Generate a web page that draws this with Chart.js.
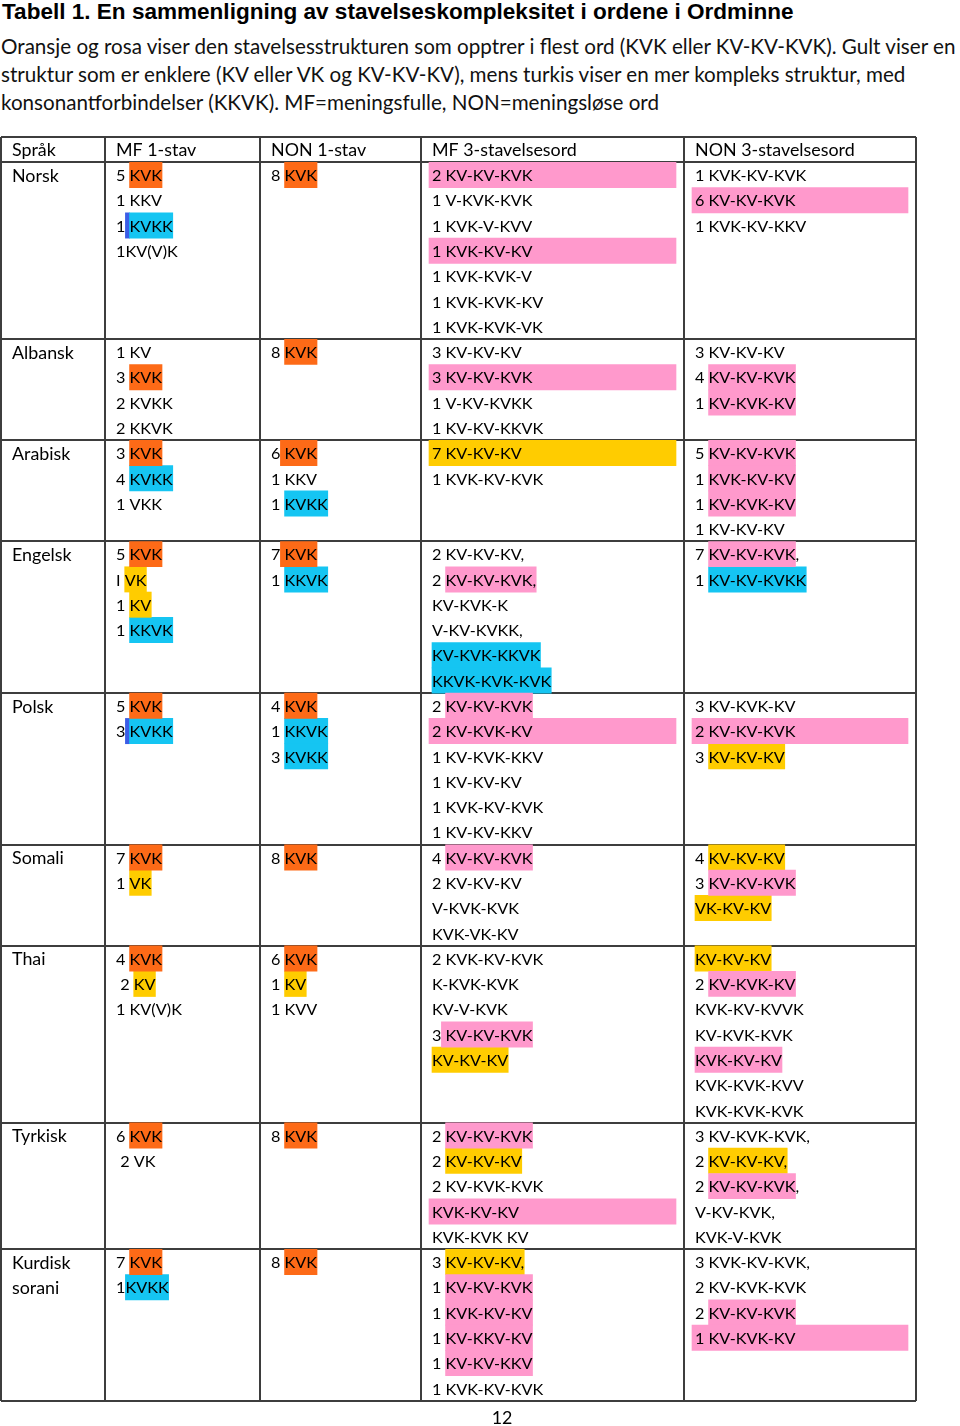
<!DOCTYPE html>
<html>
<head>
<meta charset="utf-8">
<script src="https://cdn.jsdelivr.net/npm/chart.js@4.4.1/dist/chart.umd.min.js"></script>
<style>
  body { margin: 0; width: 960px; height: 1426px; background: #fff; position: relative; overflow: hidden; color: #000; }
  #title { position: absolute; left: 2px; top: 0; line-height: 24px; font-family: "Liberation Sans", Arial, sans-serif; font-weight: bold; white-space: nowrap; }
  #intro { position: absolute; left: 1px; top: 32px; line-height: 28px; font-family: Lato, sans-serif; white-space: nowrap; color: #111; }
  #wrap { position: absolute; left: 0; top: 127px; width: 960px; height: 1284px; }
  #page { position: absolute; left: 472px; top: 1405px; width: 60px; line-height: 24px; text-align: center; font-family: Lato, sans-serif; }
</style>
</head>
<body>
<div id="title">Tabell 1. En sammenligning av stavelseskompleksitet i ordene i Ordminne</div>
<div id="intro"><span id="l1">Oransje og rosa viser den stavelsesstrukturen som opptrer i flest ord (KVK eller KV-KV-KVK). Gult viser en</span><br>struktur som er enklere (KV eller VK og KV-KV-KV), mens turkis viser en mer kompleks struktur, med<br>konsonantforbindelser (KKVK). MF=meningsfulle, NON=meningsløse ord</div>
<div id="wrap"><canvas id="table" width="960" height="1284"></canvas></div>
<div id="page">12</div>
<script>
// {x:...} = word highlight, "=x|" = highlight across the whole cell
// o orange, p pink, y yellow, c turquoise, b blue
const headers = ['Språk', 'MF 1-stav', 'NON 1-stav', 'MF 3-stavelsesord', 'NON 3-stavelsesord']

const languages = [['Norsk'], ['Albansk'], ['Arabisk'], ['Engelsk'], ['Polsk'], ['Somali'], ['Thai'], ['Tyrkisk'], ['Kurdisk', 'sorani']]

const mf1Stav = [
  ['5 {o:KVK}', '1 KKV', '1{b: }{c:KVKK}', '1KV(V)K'],
  ['1 KV', '3 {o:KVK}', '2 KVKK', '2 KKVK'],
  ['3 {o:KVK}', '4 {c:KVKK}', '1 VKK'],
  ['5 {o:KVK}', 'I {y:VK}', '1 {y:KV}', '1 {c:KKVK}'],
  ['5 {o:KVK}', '3{b: }{c:KVKK}'],
  ['7 {o:KVK}', '1 {y:VK}'],
  ['4 {o:KVK}', ' 2 {y:KV}', '1 KV(V)K'],
  ['6 {o:KVK}', ' 2 VK'],
  ['7 {o:KVK}', '1{c:KVKK}']
]

const non1Stav = [
  ['8 {o:KVK}'],
  ['8 {o:KVK}'],
  ['6{o: KVK}', '1 KKV', '1 {c:KVKK}'],
  ['7{o: KVK}', '1 {c:KKVK}'],
  ['4 {o:KVK}', '1 {c:KKVK}', '3 {c:KVKK}'],
  ['8 {o:KVK}'],
  ['6 {o:KVK}', '1 {y:KV}', '1 KVV'],
  ['8 {o:KVK}'],
  ['8 {o:KVK}']
]

const mf3Stav = [
  ['=p|2 KV-KV-KVK', '1 V-KVK-KVK', '1 KVK-V-KVV', '=p|1 KVK-KV-KV', '1 KVK-KVK-V', '1 KVK-KVK-KV', '1 KVK-KVK-VK'],
  ['3 KV-KV-KV', '=p|3 KV-KV-KVK', '1 V-KV-KVKK', '1 KV-KV-KKVK'],
  ['=y|7 KV-KV-KV', '1 KVK-KV-KVK'],
  ['2 KV-KV-KV,', '2 {p:KV-KV-KVK,}', 'KV-KVK-K', 'V-KV-KVKK,', '{c:KV-KVK-KKVK}', '{c:KKVK-KVK-KVK}'],
  ['2 {p:KV-KV-KVK}', '=p|2 KV-KVK-KV', '1 KV-KVK-KKV', '1 KV-KV-KV', '1 KVK-KV-KVK', '1 KV-KV-KKV'],
  ['4 {p:KV-KV-KVK}', '2 KV-KV-KV', 'V-KVK-KVK', 'KVK-VK-KV'],
  ['2 KVK-KV-KVK', 'K-KVK-KVK', 'KV-V-KVK', '3{p: KV-KV-KVK}', '{y:KV-KV-KV}'],
  ['2 {p:KV-KV-KVK}', '2 {y:KV-KV-KV}', '2 KV-KVK-KVK', '=p|KVK-KV-KV', 'KVK-KVK KV'],
  ['3 {y:KV-KV-KV,}', '1 {p:KV-KV-KVK}', '1 {p:KVK-KV-KV}', '1 {p:KV-KKV-KV}', '1 {p:KV-KV-KKV}', '1 KVK-KV-KVK']
]

const non3Stav = [
  ['1 KVK-KV-KVK', '=p|6 KV-KV-KVK', '1 KVK-KV-KKV'],
  ['3 KV-KV-KV', '4 {p:KV-KV-KVK}', '1 {p:KV-KVK-KV}'],
  ['5 {p:KV-KV-KVK}', '1 {p:KVK-KV-KV}', '1 {p:KV-KVK-KV}', '1 KV-KV-KV'],
  ['7 {p:KV-KV-KVK},', '1 {c:KV-KV-KVKK}'],
  ['3 KV-KVK-KV', '=p|2 KV-KV-KVK', '3 {y:KV-KV-KV}'],
  ['4 {y:KV-KV-KV}', '3 {p:KV-KV-KVK}', '{y:VK-KV-KV}'],
  ['{y:KV-KV-KV}', '2 {p:KV-KVK-KV}', 'KVK-KV-KVVK', 'KV-KVK-KVK', '{p:KVK-KV-KV}', 'KVK-KVK-KVV', 'KVK-KVK-KVK'],
  ['3 KV-KVK-KVK,', '2 {y:KV-KV-KV,}', '2 {p:KV-KV-KVK},', 'V-KV-KVK,', 'KVK-V-KVK'],
  ['3 KVK-KV-KVK,', '2 KV-KVK-KVK', '2 {p:KV-KV-KVK}', '=p|1 KV-KVK-KV']
]

const highlightColors = { o: '#fd6a17', p: '#ff99cc', y: '#ffcc00', c: '#15c5f2', b: '#3b5de6' }

// table is measured in pixel-like units across its width
const columnEdges = [0, 104, 259, 420, 683, 915]
const cellPad = 11
const fullPad = 8

const columns = [languages, mf1Stav, non1Stav, mf3Stav, non3Stav]

// one header line, then as many lines per language as its longest cell
var rowEdges = [0, 1]
for (var r = 0; r < languages.length; r++) {
  var n = Math.max.apply(null, columns.map(col => col[r].length))
  rowEdges.push(rowEdges[rowEdges.length - 1] + n)
}
const totalLines = rowEdges[rowEdges.length - 1]

const measureCtx = document.createElement('canvas').getContext('2d')
function fitSize(font, text, target) {
  measureCtx.font = font.replace('SIZE', '100px')
  return 100 * target / measureCtx.measureText(text).width
}

// codes (capitals) and words (lower case) are fitted separately
const codeFont = fitSize('SIZE Lato', 'KV-KV-KVK', 87).toFixed(2) + 'px Lato'
const wordSize = fitSize('SIZE Lato', 'MF 3-stavelsesord', 145)
const wordFont = wordSize.toFixed(2) + 'px Lato'

document.getElementById('title').style.fontSize =
  fitSize('bold SIZE "Liberation Sans"', document.getElementById('title').textContent, 792).toFixed(2) + 'px'
document.getElementById('intro').style.fontSize =
  fitSize('SIZE Lato', document.getElementById('l1').textContent, 957).toFixed(2) + 'px'
document.getElementById('page').style.fontSize = wordSize.toFixed(2) + 'px'

function parseLine(str) {
  var full = null
  if (str[0] === '=') {
    full = str[1]
    str = str.slice(3)
  }
  var segs = []
  var re = /\{(\w):([^}]*)\}/g
  var plain = '', last = 0, m
  while ((m = re.exec(str))) {
    plain += str.slice(last, m.index)
    segs.push({ color: m[1], start: plain.length, text: m[2] })
    plain += m[2]
    last = re.lastIndex
  }
  plain += str.slice(last)
  return { text: plain, full: full, segs: segs }
}

// every text line of the table with its line index and column
var textLines = []
headers.forEach((h, c) => textLines.push({ line: 0, col: c, text: h, full: null, segs: [], font: wordFont }))
columns.forEach((col, c) => {
  col.forEach((cell, r) => {
    cell.forEach((str, k) => {
      var p = parseLine(str)
      p.line = rowEdges[r + 1] + k
      p.col = c
      p.font = c === 0 ? wordFont : codeFont
      textLines.push(p)
    })
  })
})

// highlight bars, one dataset per colour
var bars = {}
Object.keys(highlightColors).forEach(k => bars[k] = [])
textLines.forEach(t => {
  var y = t.line + 0.5
  if (t.full) {
    bars[t.full].push({ x: [columnEdges[t.col] + fullPad, columnEdges[t.col + 1] - fullPad], y: y })
  }
  measureCtx.font = t.font
  var x = columnEdges[t.col] + cellPad
  t.segs.forEach(s => {
    var x0 = x + measureCtx.measureText(t.text.slice(0, s.start)).width
    var x1 = x0 + measureCtx.measureText(s.text).width
    bars[s.color].push({ x: [x0, x1], y: y })
  })
})

const tableText = {
  id: 'tableText',
  afterDatasetsDraw(chart) {
    var ctx = chart.ctx
    var xs = chart.scales.x, ys = chart.scales.y
    ctx.save()
    ctx.fillStyle = '#000'
    ctx.textBaseline = 'middle'
    ctx.textAlign = 'left'
    textLines.forEach(t => {
      ctx.font = t.font
      ctx.fillText(t.text, xs.getPixelForValue(columnEdges[t.col] + cellPad), ys.getPixelForValue(t.line + 0.5) + 1)
    })
    ctx.restore()
  }
}

const gridStyle = { drawTicks: false, color: '#3d3d3d', lineWidth: 2, offset: false }

new Chart(document.getElementById('table'), {
  type: 'bar',
  data: {
    datasets: Object.keys(highlightColors).map(k => ({
      label: k,
      data: bars[k],
      backgroundColor: highlightColors[k],
      borderWidth: 0,
      barThickness: 25.3,
      grouped: false
    }))
  },
  options: {
    indexAxis: 'y',
    responsive: false,
    animation: false,
    events: [],
    layout: { padding: { left: 1, right: 44, top: 10, bottom: 10 } },
    plugins: { legend: { display: false }, tooltip: { enabled: false } },
    scales: {
      x: {
        type: 'linear', min: columnEdges[0], max: columnEdges[columnEdges.length - 1],
        ticks: { display: false }, grid: gridStyle, border: { display: false },
        afterBuildTicks: s => { s.ticks = columnEdges.map(v => ({ value: v })) }
      },
      y: {
        type: 'linear', reverse: true, min: 0, max: totalLines, offset: false,
        ticks: { display: false }, grid: gridStyle, border: { display: false },
        afterBuildTicks: s => { s.ticks = rowEdges.map(v => ({ value: v })) }
      }
    }
  },
  plugins: [tableText]
})
</script>
</body>
</html>
